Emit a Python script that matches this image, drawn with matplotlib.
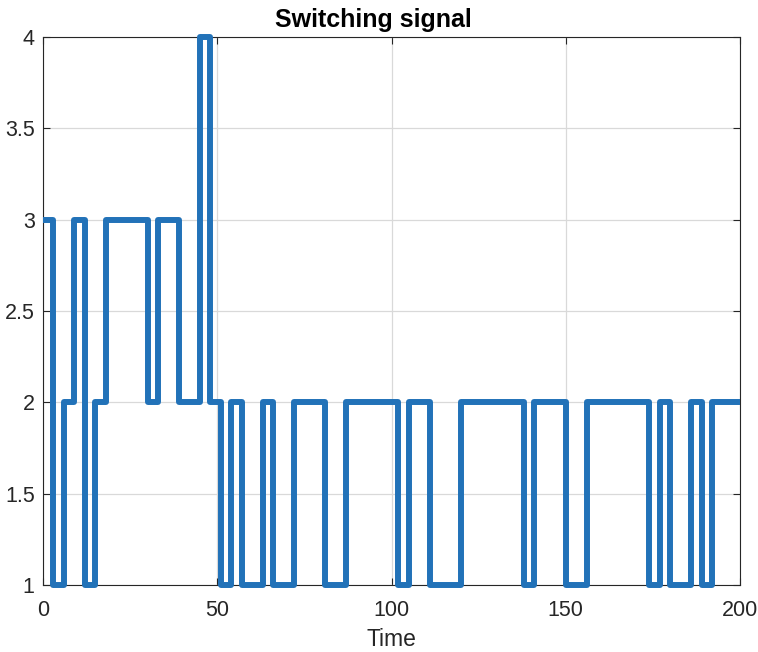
import matplotlib
matplotlib.use("Agg")
import matplotlib.pyplot as plt
import numpy as np

plt.rcParams['font.family'] = ['Liberation Sans', 'DejaVu Sans']

# switching instants and mode held from each instant (post step)
switch_times = [0, 3, 6, 9, 12, 15, 18, 30, 33, 39, 45, 48, 51, 54, 57, 63, 66, 72,
                81, 87, 102, 105, 111, 120, 138, 141, 150, 156, 174, 177, 180, 186,
                189, 192, 200]
modes = [3, 1, 2, 3, 1, 2, 3, 2, 3, 2, 4, 2, 1, 2, 1, 2, 1, 2,
         1, 2, 1, 2, 1, 2, 1, 2, 1, 2, 1, 2, 1, 2,
         1, 2, 2]
x_ticks = [0, 50, 100, 150, 200]
y_ticks = [1, 1.5, 2, 2.5, 3, 3.5, 4]
y_ticklabels = ['1', '1.5', '2', '2.5', '3', '3.5', '4']

fig = plt.figure(figsize=(7.58, 6.52), dpi=100)
ax = fig.add_axes([43/758, 1-585/652, (740-43)/758, (585-37)/652])

ax.step(switch_times, modes, where='post', color='#2272b8', lw=4.3,
        solid_joinstyle='round', solid_capstyle='butt', clip_on=False, zorder=3)

ax.set_xlim(0, 200)
ax.set_ylim(1, 4)
ax.set_xticks(x_ticks)
ax.set_yticks(y_ticks)
ax.set_yticklabels(y_ticklabels)
ax.grid(True, color='#d9d9d9', lw=0.9)
ax.set_axisbelow(True)
ax.tick_params(direction='in', top=True, right=True, length=5, width=0.8,
               labelsize=15.5, colors='#262626')
ax.tick_params(axis='x', pad=11)
ax.tick_params(axis='y', pad=6)
for s in ax.spines.values():
    s.set_color('#262626')
    s.set_linewidth(0.8)
ax.set_xlabel('Time', fontsize=16.5, color='#262626', labelpad=5)
ax.set_title('Switching signal', fontsize=18, fontweight='bold', color='#000000',
             x=(373-43)/697, pad=7)

fig.savefig('out.png', dpi=100)
